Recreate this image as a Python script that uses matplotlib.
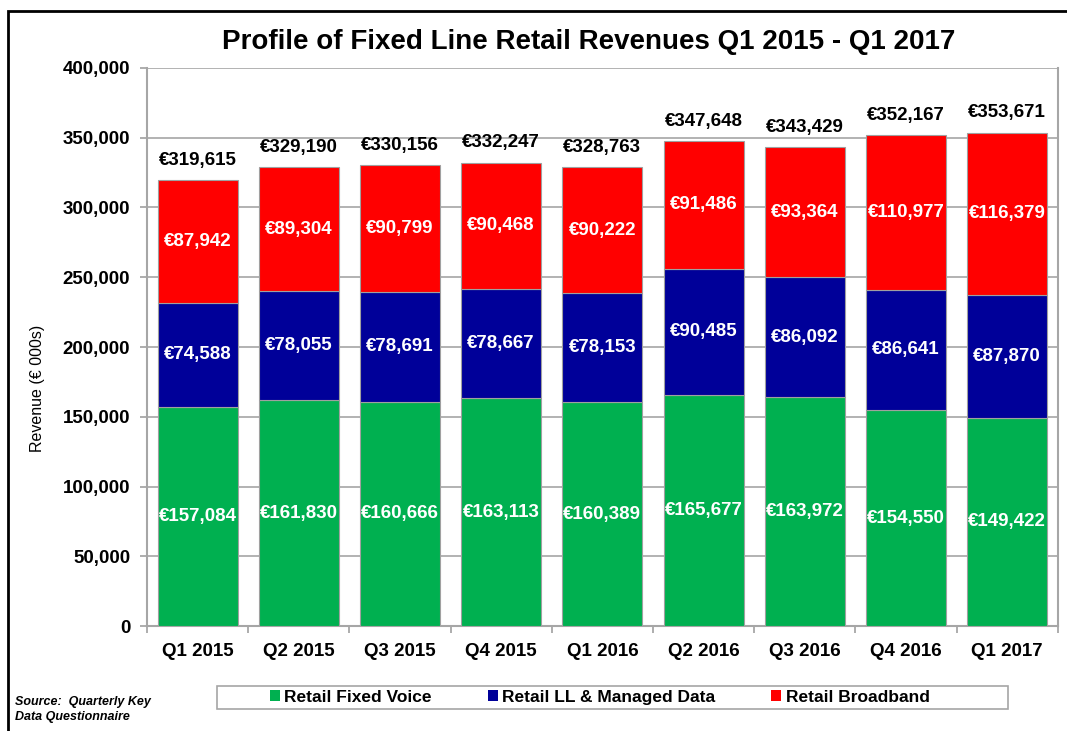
import numpy as np
import matplotlib.pyplot as plt
from matplotlib.patches import Rectangle
from matplotlib.ticker import FuncFormatter

plt.rcParams['font.family'] = ['Liberation Sans', 'DejaVu Sans']

quarters = ['Q1 2015', 'Q2 2015', 'Q3 2015', 'Q4 2015', 'Q1 2016',
            'Q2 2016', 'Q3 2016', 'Q4 2016', 'Q1 2017']
fixed_voice = [157084, 161830, 160666, 163113, 160389, 165677, 163972, 154550, 149422]
ll_managed = [74588, 78055, 78691, 78667, 78153, 90485, 86092, 86641, 87870]
broadband = [87942, 89304, 90799, 90468, 90222, 91486, 93364, 110977, 116379]
totals = [319615, 329190, 330156, 332247, 328763, 347648, 343429, 352167, 353671]

series = [
    ('Retail Fixed Voice', fixed_voice, '#00B050'),
    ('Retail LL & Managed Data', ll_managed, '#000099'),
    ('Retail Broadband', broadband, '#FF0000'),
]

fig = plt.figure(figsize=(10.67, 7.31), dpi=100)
ax = fig.add_axes([0.1378, 0.1436, 0.8535, 0.7634])

x = np.arange(len(quarters))
bottom = np.zeros(len(quarters))
for name, vals, color in series:
    vals = np.array(vals, dtype=float)
    ax.bar(x, vals, width=0.79, bottom=bottom, color=color, edgecolor='#A0A0A0',
           linewidth=0.8, label=name, zorder=3)
    for xi, b, v in zip(x, bottom, vals):
        ax.text(xi, b + v / 2, f'€{v:,.0f}', ha='center', va='center',
                color='white', fontsize=13.5, fontweight='bold', zorder=4)
    bottom += vals

for xi, t, top in zip(x, totals, bottom):
    ax.text(xi, top + 8000, f'€{t:,}', ha='center', va='bottom',
            color='black', fontsize=13.5, fontweight='bold', zorder=4)

ax.set_xlim(-0.5, len(quarters) - 0.5)
ax.set_ylim(0, 400000)
ax.set_yticks(np.arange(0, 400001, 50000))
ax.yaxis.set_major_formatter(FuncFormatter(lambda v, p: f'{v:,.0f}'))
ax.set_xticks(x)
ax.set_xticklabels(quarters)
ax.set_xticks(np.arange(-0.5, len(quarters), 1.0), minor=True)
ax.tick_params(axis='x', which='major', length=0, pad=12, labelsize=13.5)
ax.tick_params(axis='x', which='minor', length=5, color='#A0A0A0', width=1.2)
ax.tick_params(axis='y', length=5, color='#A0A0A0', width=1.2, labelsize=13.5, pad=7)
for lab in ax.get_xticklabels() + ax.get_yticklabels():
    lab.set_fontweight('bold')

ax.grid(axis='y', color='#A6A6A6', linewidth=1.2, zorder=0)
for side in ['left', 'right', 'bottom']:
    ax.spines[side].set_color('#A6A6A6')
    ax.spines[side].set_linewidth(1.5)
ax.spines['top'].set_visible(False)

ax.set_ylabel('Revenue (€ 000s)', fontsize=11.5)
ax.yaxis.set_label_coords(-0.112, 0.425)
fig.text(0.552, 0.943, 'Profile of Fixed Line Retail Revenues Q1 2015 - Q1 2017',
         ha='center', va='center', fontsize=20, fontweight='bold')

# legend box drawn separately (wider than its entries, as in the original)
fig.add_artist(Rectangle((217 / 1067, 1 - 709 / 731), 791 / 1067, 23 / 731,
                         transform=fig.transFigure, fill=False,
                         edgecolor='#A6A6A6', linewidth=1.2))
leg = fig.legend(loc='center', bbox_to_anchor=(0.562, 0.0465), ncol=3,
                 frameon=False, prop={'weight': 'bold', 'size': 12.5},
                 handlelength=0.6, handleheight=0.6, handletextpad=0.25,
                 columnspacing=3.2)
for h in leg.legend_handles:
    h.set_edgecolor('none')

fig.text(0.014, 0.029, 'Source:  Quarterly Key\nData Questionnaire', ha='left', va='center',
         fontsize=9, fontstyle='italic', fontweight='bold', linespacing=1.3)

fig.add_artist(Rectangle((0.0075, -0.1), 1.2, 1.085, transform=fig.transFigure,
                         fill=False, edgecolor='black', linewidth=2))

fig.savefig('out.png', dpi=100)
